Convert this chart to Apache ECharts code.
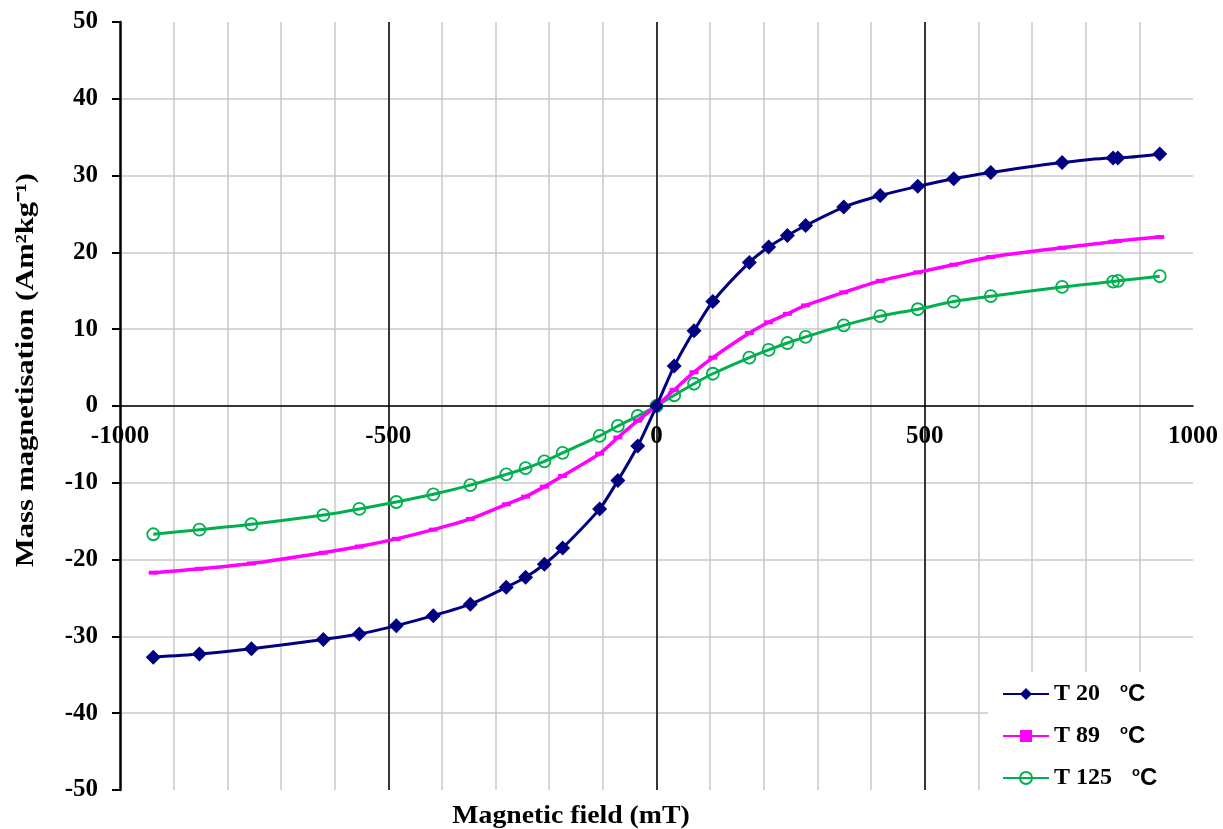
<!DOCTYPE html>
<html>
<head>
<meta charset="utf-8">
<script src="https://cdn.jsdelivr.net/npm/echarts@6/dist/echarts.min.js"></script>
<style>
html,body{margin:0;padding:0;background:#fff;}
#chart{width:1223px;height:829px;}
</style>
</head>
<body>
<div id="chart"></div>
<script>
// Magnetic field (mT)
const field = [-938, -852, -755, -621, -554, -485, -416, -347, -280, -244, -209, -175, -106, -72, -35, 0, 33, 70, 105, 173, 209, 244, 278, 349, 417, 487, 554, 623, 756, 851, 860, 938];
// Mass magnetisation (Am2/kg)
const T20 = [-32.7, -32.3, -31.6, -30.4, -29.7, -28.6, -27.3, -25.8, -23.6, -22.3, -20.6, -18.5, -13.4, -9.7, -5.2, 0, 5.2, 9.8, 13.6, 18.7, 20.7, 22.2, 23.5, 25.9, 27.4, 28.6, 29.6, 30.4, 31.7, 32.3, 32.3, 32.8];
const T89 = [-21.7, -21.2, -20.5, -19.1, -18.3, -17.3, -16.1, -14.7, -12.8, -11.8, -10.5, -9.1, -6.2, -4.1, -1.9, 0, 2.1, 4.4, 6.3, 9.5, 10.9, 12.0, 13.1, 14.8, 16.3, 17.4, 18.4, 19.4, 20.6, 21.4, 21.5, 22.0];
const T125 = [-16.7, -16.1, -15.4, -14.2, -13.4, -12.5, -11.5, -10.3, -8.9, -8.1, -7.2, -6.1, -3.9, -2.6, -1.3, 0, 1.4, 2.9, 4.2, 6.3, 7.3, 8.2, 9.0, 10.5, 11.7, 12.6, 13.6, 14.3, 15.5, 16.2, 16.3, 16.9];
const seriesNames = ['T 20', 'T 89', 'T 125'];
const xTickLabels = [-1000, -500, 0, 500, 1000];

const SERIF = '"Liberation Serif", "Times New Roman", serif';
const SANS = '"Liberation Sans", Arial, sans-serif';
const GRAY = '#c8c8c8';

const W = 1223, H = 829;
const gridTop = 22, gridBottom = 39, gridLeft = 120, gridRight = 30;
const yMin = -50, yMax = 50;
// axis sits on y = 0: shift the bottom axis up by the distance from the bottom edge to zero
const plotH = H - gridTop - gridBottom;
const zeroOffset = -plotH * (0 - yMin) / (yMax - yMin);

const xGridColors = [];
for (let i = 0; i <= 20; i++) xGridColors.push(i === 0 || i === 20 ? 'transparent' : GRAY);
const yGridColors = [];
for (let i = 0; i <= 10; i++) yGridColors.push(i === 0 || i === 10 ? 'transparent' : GRAY);

const pairs = arr => field.map((x, i) => [x, arr[i]]);

const chart = echarts.init(document.getElementById('chart'), null, {renderer: 'canvas'});
chart.setOption({
  backgroundColor: '#fff',
  animation: false,
  grid: {left: gridLeft, right: gridRight, top: gridTop, bottom: gridBottom, containLabel: false},
  xAxis: [{
    type: 'value', min: -1000, max: 1000, interval: 100, position: 'bottom', offset: zeroOffset,
    axisLine: {show: true, onZero: false, lineStyle: {color: '#000', width: 1.5}},
    axisTick: {show: false},
    axisLabel: {
      margin: 18, color: '#000', fontFamily: SERIF, fontWeight: 'bold', fontSize: 25,
      formatter: v => xTickLabels.indexOf(v) >= 0 ? String(v) : ''
    },
    splitLine: {show: true, lineStyle: {color: xGridColors, width: 1.5}}
  }, {
    type: 'value', min: -1000, max: 1000, interval: 500, position: 'top',
    axisLine: {show: false, onZero: false}, axisTick: {show: false}, axisLabel: {show: false},
    splitLine: {show: true, lineStyle: {color: ['transparent', '#000', '#000', '#000', 'transparent'], width: 1.5}}
  }],
  yAxis: {
    type: 'value', min: yMin, max: yMax, interval: 10,
    axisLine: {show: true, onZero: false, lineStyle: {color: '#000', width: 2.5}},
    axisTick: {show: true, length: 8, lineStyle: {color: '#000', width: 2}},
    axisLabel: {margin: 22, color: '#000', fontFamily: SERIF, fontWeight: 'bold', fontSize: 25},
    splitLine: {show: true, lineStyle: {color: yGridColors, width: 1.5}}
  },
  legend: {
    orient: 'vertical', left: 988, top: 672,
    backgroundColor: '#fff', padding: [10, 60, 12, 14], itemGap: 18,
    itemWidth: 46, itemHeight: 15,
    data: seriesNames,
    formatter: n => `{t|${n}}{o|o}{c|C}`,
    textStyle: {
      rich: {
        t: {fontFamily: SERIF, fontWeight: 'bold', fontSize: 24, color: '#000'},
        o: {fontFamily: SANS, fontWeight: 'bold', fontSize: 13, color: '#000', verticalAlign: 'top', padding: [0, 0, 0, 20]},
        c: {fontFamily: SANS, fontWeight: 'bold', fontSize: 24, color: '#000'}
      }
    }
  },
  graphic: [{
    type: 'text', x: 27, y: 370, rotation: Math.PI / 2, scaleX: 1.22, scaleY: 1,
    style: {text: 'Mass magnetisation (Am²kg⁻¹)', font: 'bold 25px ' + SERIF, fill: '#000', textAlign: 'center', textVerticalAlign: 'middle'}
  }, {
    type: 'text', x: 571, y: 817, scaleX: 1.11, scaleY: 1,
    style: {text: 'Magnetic field (mT)', font: 'bold 25px ' + SERIF, fill: '#000', textAlign: 'center', textVerticalAlign: 'middle'}
  }],
  series: [{
    name: seriesNames[0], type: 'line', data: pairs(T20), smooth: 0.25,
    symbol: 'diamond', symbolSize: 15,
    lineStyle: {color: '#000080', width: 3},
    itemStyle: {color: '#000080'}, z: 5
  }, {
    name: seriesNames[1], type: 'line', data: pairs(T89), smooth: 0.25,
    symbol: 'rect', symbolSize: [9, 4],
    lineStyle: {color: '#ff00ff', width: 3.5},
    itemStyle: {color: '#ff00ff'}, z: 4
  }, {
    name: seriesNames[2], type: 'line', data: pairs(T125), smooth: 0.25,
    symbol: 'circle', symbolSize: 12,
    lineStyle: {color: '#00b050', width: 3},
    itemStyle: {color: 'rgba(255,255,255,0)', borderColor: '#00b050', borderWidth: 1.8}, z: 3
  }]
});
</script>
</body>
</html>
